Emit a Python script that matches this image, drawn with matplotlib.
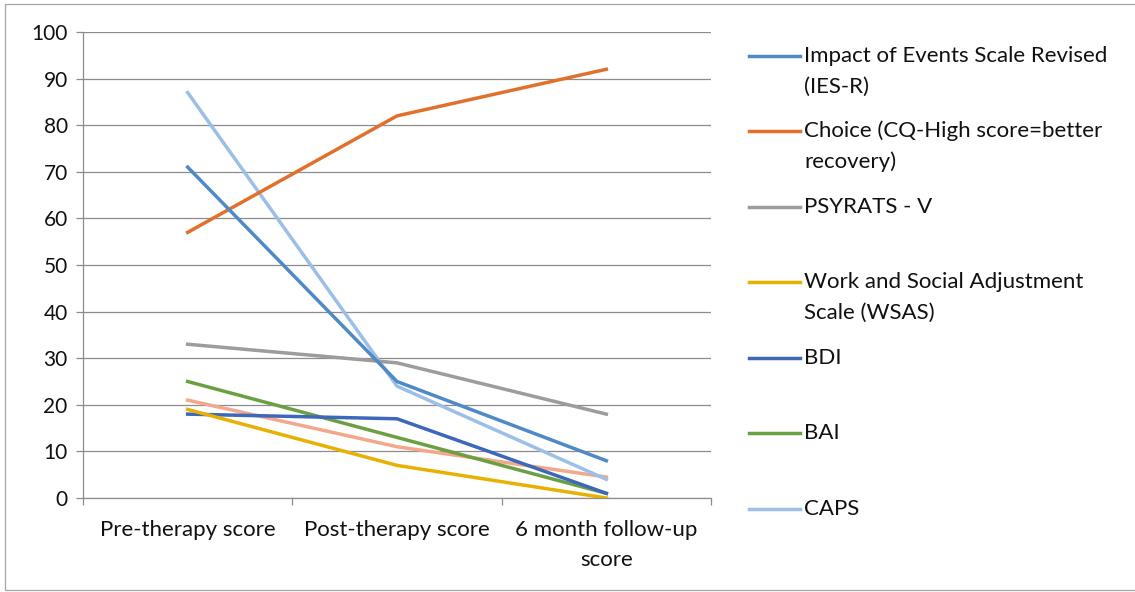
import matplotlib
matplotlib.use("Agg")
import matplotlib.pyplot as plt
from matplotlib.lines import Line2D
from matplotlib.patches import Rectangle

plt.rcParams['font.family'] = ['Lato', 'DejaVu Sans']

categories = ["Pre-therapy score", "Post-therapy score", "6 month follow-up\nscore"]
series_names = [
    "Impact of Events Scale Revised\n(IES-R)",
    "Choice (CQ-High score=better\nrecovery)",
    "PSYRATS - V",
    "Work and Social Adjustment\nScale (WSAS)",
    "BDI",
    "BAI",
    "CAPS",
    "",
]
ies_r = [71, 25, 8]
choice = [57, 82, 92]
psyrats = [33, 29, 18]
wsas = [19, 7, 0]
bdi = [18, 17, 1]
bai = [25, 13, 1]
caps = [87, 24, 4]
extra = [21, 11, 4.5]
series_values = [ies_r, choice, psyrats, wsas, bdi, bai, caps, extra]
colors = ["#4F8AC6", "#E2702D", "#9C9C9C", "#E8B000", "#3D67B8", "#6AA042", "#9BBFE6", "#F2A88A"]
y_ticks = list(range(0, 101, 10))

FS = 16
W, H = 1135, 592
fig = plt.figure(figsize=(W / 100, H / 100), dpi=100)
fig.patch.set_facecolor("white")

def fx(px):
    return px / W

def fy(py):
    return 1 - py / H

ax = fig.add_axes([fx(83), fy(498), fx(711) - fx(83), fy(32) - fy(498)])
x = list(range(len(categories)))
draw_order = [7, 6, 5, 4, 3, 2, 1, 0]
for i in draw_order:
    ax.plot(x, series_values[i], color=colors[i], lw=2.5, solid_joinstyle="round", zorder=3 + (7 - i) * 0.01)

ax.set_xlim(-0.5, 2.5)
ax.set_ylim(0, 100)
ax.set_yticks(y_ticks)
ax.set_yticklabels([str(v) for v in y_ticks], fontsize=FS - 1, color="#111111")
ax.grid(axis="y", color="#8C8C8C", lw=0.9, zorder=1)
ax.set_axisbelow(True)
ax.set_xticks(x)
ax.set_xticklabels(categories, fontsize=FS, color="#111111", linespacing=1.6)
ax.set_xticks([-0.5, 0.5, 1.5, 2.5], minor=True)
ax.tick_params(axis="x", which="major", length=0, pad=16)
ax.tick_params(axis="x", which="minor", length=5, color="#8C8C8C", width=0.9)
ax.tick_params(axis="y", length=5, color="#8C8C8C", width=0.9, pad=6)
for s in ["top", "right"]:
    ax.spines[s].set_visible(False)
for s in ["left", "bottom"]:
    ax.spines[s].set_color("#8C8C8C")
    ax.spines[s].set_linewidth(0.9)

# legend (manual, handle aligned with first line of text)
entry_y = [56, 131, 207, 282, 358, 433, 509]
for k, yy in enumerate(entry_y):
    fig.add_artist(Line2D([fx(749), fx(800)], [fy(yy), fy(yy)], color=colors[k], lw=2.5,
                          transform=fig.transFigure))
    for j, line in enumerate(series_names[k].split("\n")):
        fig.text(fx(804), fy(yy + 31 * j), line, fontsize=FS, color="#111111",
                 va="center", ha="left")

fig.add_artist(Rectangle((fx(5), fy(590)), 2, fy(4) - fy(590), transform=fig.transFigure,
                         fill=False, edgecolor="#A6A6A6", lw=0.9))

fig.savefig("out.png", dpi=100)
